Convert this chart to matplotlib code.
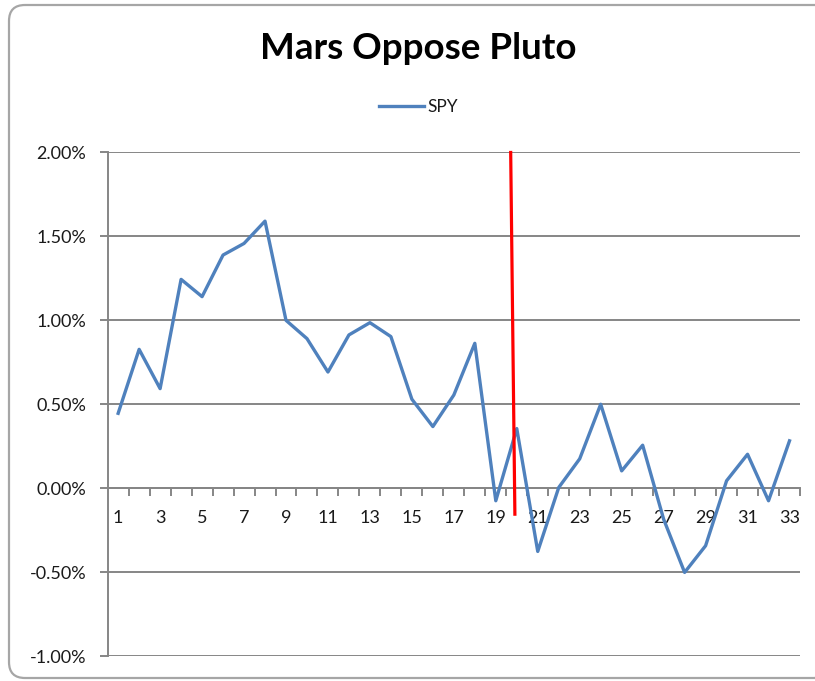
import matplotlib
matplotlib.use('Agg')
import matplotlib.pyplot as plt
import numpy as np
from matplotlib.patches import FancyBboxPatch
from matplotlib.lines import Line2D

# ---- data ----
days = list(range(1, 34))
spy = [0.446, 0.827, 0.593, 1.244, 1.141, 1.389, 1.458, 1.591, 1.000, 0.891,
       0.692, 0.913, 0.986, 0.903, 0.530, 0.367, 0.555, 0.863, -0.075, 0.355,
       -0.377, 0.004, 0.175, 0.500, 0.103, 0.256, -0.185, -0.502, -0.343, 0.044,
       0.202, -0.075, 0.282]
event_x = [19.71, 19.91]
event_y = [2.0, -0.155]
y_ticks = [-1.0, -0.5, 0.0, 0.5, 1.0, 1.5, 2.0]
x_label_days = list(range(1, 34, 2))
title = "Mars Oppose Pluto"
series_name = "SPY"

plt.rcParams['font.family'] = ['Lato', 'DejaVu Sans']

GRAY = '#868686'
BLUE = '#4F81BD'
TXT = '#1a1a1a'

W, H = 815, 681
fig = plt.figure(figsize=(W / 100, H / 100), dpi=100)

# background frame (pixel-space helper axes)
bg = fig.add_axes([0, 0, 1, 1], zorder=0)
bg.set_xlim(0, W)
bg.set_ylim(H, 0)
bg.axis('off')
bg.add_patch(FancyBboxPatch((9, 5), 822, 673,
                            boxstyle="round,pad=0,rounding_size=16",
                            fill=False, edgecolor='#a6a6a6', lw=1.6,
                            clip_on=False))

ax = fig.add_axes([0.1321, 0.0367, 0.8495, 0.7394], zorder=1)
ax.patch.set_alpha(0)

ax.plot(days, spy, color=BLUE, lw=2.4, zorder=3, label=series_name)
ax.plot(event_x, event_y, color='red', lw=2.3, zorder=4, clip_on=False)

ax.set_xlim(0.5, 33.5)
ax.set_ylim(-1.0, 2.0)

ax.set_yticks(y_ticks)
ax.set_yticklabels([f'{v:.2f}%' for v in y_ticks])
ax.yaxis.grid(True, color=GRAY, lw=1.4)
ax.set_axisbelow(True)

for s in ['top', 'right']:
    ax.spines[s].set_visible(False)
ax.spines['left'].set_color(GRAY)
ax.spines['left'].set_linewidth(1.4)
ax.spines['bottom'].set_color(GRAY)
ax.spines['bottom'].set_linewidth(1.4)
ax.spines['bottom'].set_position(('data', 0))

ax.set_xticks(np.arange(1.5, 34, 1.0))
ax.set_xticks(x_label_days, minor=True)
ax.set_xticklabels([str(d) for d in x_label_days], minor=True)
ax.tick_params(axis='x', which='major', length=6, width=1.4, color=GRAY,
               labelbottom=False, direction='out')
ax.tick_params(axis='x', which='minor', length=0, pad=16, labelsize=13,
               labelcolor=TXT)
ax.tick_params(axis='y', length=6, width=1.4, color=GRAY, pad=9.5,
               labelsize=13, labelcolor=TXT)

fig.text(0.5135, 1 - 59 / 681, title, ha='center', va='baseline',
         fontsize=26.5, fontweight='bold', color='black')

fig.legend(handles=[Line2D([], [], color=BLUE, lw=2.4)], labels=[series_name],
           loc='center', bbox_to_anchor=(0.514, 1 - 107 / 681), frameon=False,
           fontsize=12.5, handlelength=2.6, handletextpad=0.2,
           labelcolor=TXT)

fig.savefig('out.png', dpi=100)
